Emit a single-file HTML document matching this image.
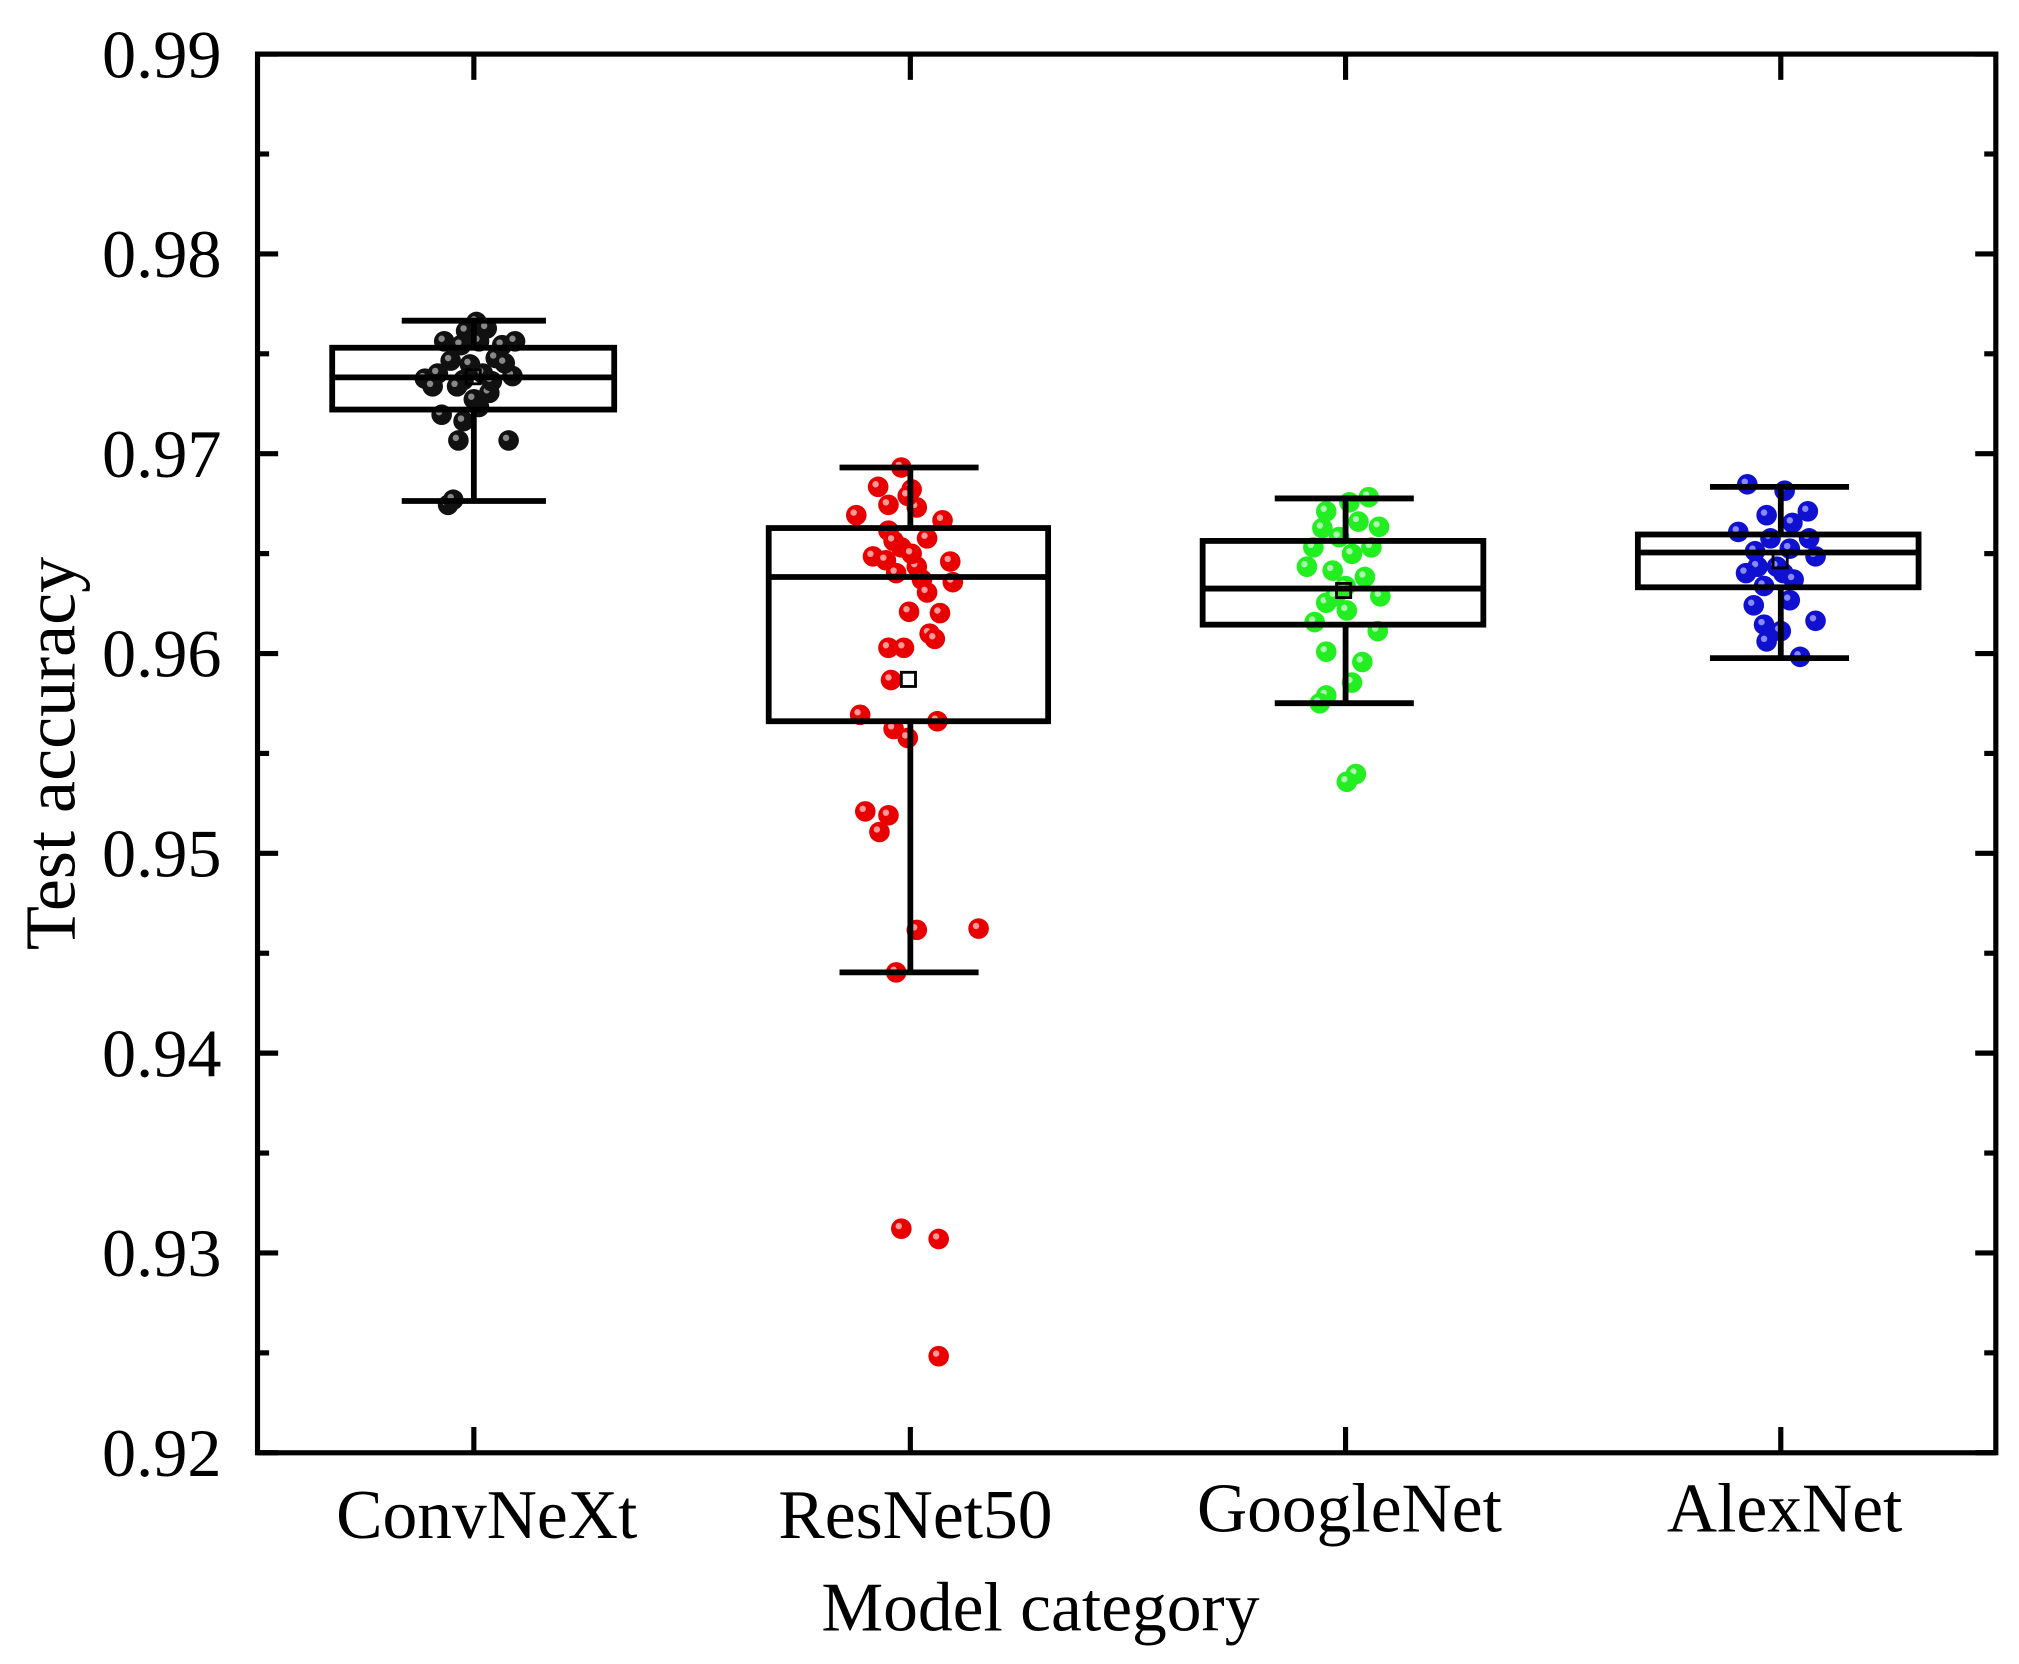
<!DOCTYPE html>
<html><head><meta charset="utf-8"><style>html,body{margin:0;padding:0;background:#fff}svg{display:block}</style></head>
<body>
<svg width="2019" height="1664" viewBox="0 0 1568 1292" preserveAspectRatio="none" xmlns="http://www.w3.org/2000/svg" font-family="'Liberation Serif',serif">
<g id="pts"></g>
<g stroke="#000" stroke-width="4.5" fill="none">
<line x1="368" y1="249" x2="368" y2="270"/><line x1="368" y1="318" x2="368" y2="389"/>
<line x1="312" y1="249" x2="424" y2="249"/><line x1="312" y1="389" x2="424" y2="389"/>
<rect x="258" y="270" width="219" height="48"/><line x1="258" y1="293" x2="477" y2="293"/>
<line x1="707" y1="363" x2="707" y2="410"/><line x1="707" y1="560" x2="707" y2="755"/>
<line x1="652" y1="363" x2="760" y2="363"/><line x1="652" y1="755" x2="760" y2="755"/>
<rect x="597" y="410" width="217" height="150"/><line x1="597" y1="448" x2="814" y2="448"/>
<line x1="1045" y1="387" x2="1045" y2="420"/><line x1="1045" y1="485" x2="1045" y2="546"/>
<line x1="990" y1="387" x2="1098" y2="387"/><line x1="990" y1="546" x2="1098" y2="546"/>
<rect x="934" y="420" width="218" height="65"/><line x1="934" y1="457" x2="1152" y2="457"/>
<line x1="1383" y1="378" x2="1383" y2="415"/><line x1="1383" y1="456" x2="1383" y2="511"/>
<line x1="1328" y1="378" x2="1436" y2="378"/><line x1="1328" y1="511" x2="1436" y2="511"/>
<rect x="1272" y="415" width="218" height="41"/><line x1="1272" y1="429" x2="1490" y2="429"/>
</g>
<g stroke="#000" stroke-width="2.2" fill="none">
<rect x="362" y="287" width="11" height="11"/><rect x="700" y="522" width="11" height="11"/>
<rect x="1038" y="453" width="11" height="11"/><rect x="1377" y="430" width="11" height="11"/>
</g>
<g id="axes" stroke="#000" stroke-width="4" fill="none">
<rect x="200" y="42" width="1350" height="1086"/>
</g>
<g id="ylab" font-size="53" text-anchor="end"></g>
<g font-size="54" text-anchor="middle">
<text x="378" y="1194">ConvNeXt</text><text x="711" y="1194">ResNet50</text>
<text x="1048" y="1189">GoogleNet</text><text x="1386" y="1189">AlexNet</text>
<text x="808" y="1266">Model category</text>
</g>
<text font-size="56" text-anchor="middle" transform="translate(58,585) rotate(-90)">Test accuracy</text>
<script>
var ns="http://www.w3.org/2000/svg";
function Y(v){return 42+(0.99-v)/0.01*155.14;}
var ax=document.getElementById('axes'),yl=document.getElementById('ylab');
function L(x1,y1,x2,y2){var l=document.createElementNS(ns,'line');l.setAttribute('x1',x1);l.setAttribute('y1',y1);l.setAttribute('x2',x2);l.setAttribute('y2',y2);ax.appendChild(l);}
for(var i=0;i<=14;i++){var v=0.99-i*0.005,y=Y(v),len=(i%2==0)?16:9;
 L(200,y,200+len,y);L(1550,y,1550-len,y);
 if(i%2==0){var t=document.createElementNS(ns,'text');t.setAttribute('x',172);t.setAttribute('y',y+18);t.textContent=v.toFixed(2);yl.appendChild(t);}}
[368,707,1045,1383].forEach(function(x){L(x,1128,x,1108);L(x,42,x,62);});
var sets=[
["#111","#888",[[348,392],[352,388],[395,342],[356,342],[360,327],[343,322],[372,316],[380,305],[330,294],[340,290],[360,295],[375,290],[398,292],[365,283],[350,280],[385,278],[358,268],[372,265],[390,268],[400,265],[345,265],[362,257],[370,250],[378,255],[355,300],[368,310],[382,296],[336,300],[392,282]]],
["#e80000","#ff9a9a",[[700,363],[682,378],[708,380],[690,392],[665,400],[712,394],[732,404],[690,412],[720,418],[700,425],[678,432],[688,435],[712,440],[738,436],[696,445],[716,450],[720,460],[740,452],[706,475],[730,476],[722,492],[726,496],[690,503],[702,503],[692,528],[668,555],[728,560],[694,566],[705,573],[672,630],[690,633],[683,646],[712,722],[760,721],[696,755],[700,954],[729,962],[729,1053],[705,385],[694,420],[708,430]]],
["#22ee22","#aaffaa",[[1063,386],[1048,390],[1030,397],[1055,405],[1027,410],[1040,417],[1071,409],[1020,425],[1050,430],[1015,440],[1035,443],[1060,448],[1045,455],[1072,463],[1030,468],[1021,483],[1046,474],[1070,490],[1030,506],[1058,514],[1050,530],[1030,540],[1025,546],[1053,601],[1046,607],[1037,463],[1065,425]]],
["#1010d0","#8888ff",[[1357,376],[1386,381],[1404,397],[1372,400],[1392,406],[1350,413],[1375,418],[1405,418],[1363,428],[1390,426],[1410,432],[1365,440],[1385,445],[1370,455],[1393,450],[1362,470],[1390,466],[1370,485],[1410,482],[1383,490],[1372,498],[1398,510],[1380,440],[1356,445]]]];
var g=document.getElementById('pts');
sets.forEach(function(s){s[2].forEach(function(p){var c=document.createElementNS(ns,'circle');c.setAttribute('cx',p[0]);c.setAttribute('cy',p[1]);c.setAttribute('r',8);c.setAttribute('fill',s[0]);g.appendChild(c);
var h=document.createElementNS(ns,'circle');h.setAttribute('cx',p[0]-2);h.setAttribute('cy',p[1]-2);h.setAttribute('r',2.5);h.setAttribute('fill',s[1]);g.appendChild(h);});});
</script>
</svg>
</body></html>
